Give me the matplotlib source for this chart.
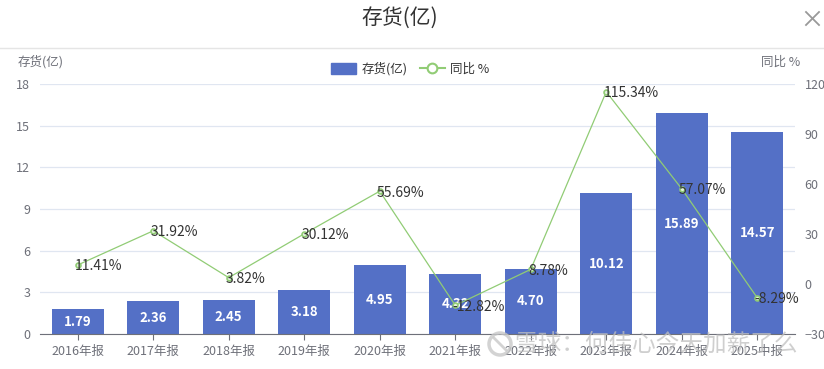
import matplotlib
matplotlib.use('Agg')
import matplotlib.pyplot as plt
from matplotlib.patches import Patch, Ellipse
from matplotlib.lines import Line2D

plt.rcParams['font.family'] = ['Noto Sans CJK SC', 'DejaVu Sans']

# data
periods = ['2016年报', '2017年报', '2018年报', '2019年报', '2020年报',
           '2021年报', '2022年报', '2023年报', '2024年报', '2025中报']
inventory = [1.79, 2.36, 2.45, 3.18, 4.95, 4.32, 4.70, 10.12, 15.89, 14.57]
yoy = [11.41, 31.92, 3.82, 30.12, 55.69, -12.82, 8.78, 115.34, 57.07, -8.29]

BAR = '#5470c6'
LINE = '#91cc75'
AXIS = '#6e7079'
GRID = '#e0e6f1'

W, H = 824, 369
fig = plt.figure(figsize=(W / 100, H / 100), dpi=100)
ax = fig.add_axes([40 / W, 1 - 334 / H, 755 / W, 250 / H])

x = list(range(len(periods)))
ax.bar(x, inventory, width=0.69, color=BAR, zorder=2)
ax.set_xlim(-0.5, len(periods) - 0.5)
ax.set_ylim(0, 18)
ax.set_yticks(range(0, 19, 3))
ax.grid(axis='y', color=GRID, linewidth=0.9, zorder=0)
ax.set_xticks(x)
ax.set_xticklabels(periods)
ax.tick_params(axis='x', colors=AXIS, labelsize=9, length=4, pad=4)
ax.tick_params(axis='y', colors=AXIS, labelsize=9, length=0, pad=7)
for s in ['top', 'right', 'left']:
    ax.spines[s].set_visible(False)
ax.spines['bottom'].set_color(AXIS)

for xi, v in zip(x, inventory):
    ax.text(xi, v / 2, f'{v:.2f}', ha='center', va='center', color='white',
            fontsize=9.5, fontweight='bold', zorder=3)

ax2 = ax.twinx()
ax2.set_ylim(-30, 120)
ax2.set_yticks(range(-30, 121, 30))
ax2.tick_params(axis='y', colors=AXIS, labelsize=9, length=0, pad=7)
for s in ax2.spines.values():
    s.set_visible(False)
ax2.plot(x, yoy, color=LINE, linewidth=0.9, marker='o', markersize=3.5,
         markerfacecolor='#e4f3dc', markeredgecolor=LINE, markeredgewidth=1.2, zorder=4)
for xi, v in zip(x, yoy):
    ax2.annotate(f'{v:.2f}%', (xi, v), xytext=(-2, -1), textcoords='offset points',
                 ha='left', va='center', fontsize=10, color='#333333', zorder=5)

# header
fig.text(400 / W, 1 - 18 / H, '存货(亿)', ha='center', va='center', fontsize=15, color='#333333')
fig.add_artist(Line2D([806 / W, 819 / W], [1 - 12 / H, 1 - 25 / H], color='#999999', linewidth=1.3))
fig.add_artist(Line2D([806 / W, 819 / W], [1 - 25 / H, 1 - 12 / H], color='#999999', linewidth=1.3))
fig.add_artist(Line2D([0, 1], [1 - 48 / H, 1 - 48 / H], color='#e5e5e5', linewidth=1))

# axis titles
fig.text(18 / W, 1 - 62 / H, '存货(亿)', ha='left', va='center', fontsize=9, color=AXIS)
fig.text(800 / W, 1 - 62 / H, '同比 %', ha='right', va='center', fontsize=9, color=AXIS)

# legend
handles = [Patch(facecolor=BAR, edgecolor=BAR),
           Line2D([0], [0], color=LINE, linewidth=1.5, marker='o', markersize=7,
                  markerfacecolor='white', markeredgecolor=LINE, markeredgewidth=1.5)]
fig.legend(handles, ['存货(亿)', '同比 %'], loc='center', ncol=2,
           bbox_to_anchor=(410 / W, 1 - 69 / H), frameon=False, fontsize=9,
           handlelength=2.0, handleheight=0.9, columnspacing=1.0, handletextpad=0.4,
           labelcolor='#333333')

# watermark (logo drawn as a ring, then the text)
fig.add_artist(Ellipse((500 / W, 1 - 344 / H), 22 / W, 22 / H, fill=False,
                       edgecolor='#c8c8c8', linewidth=2.5, alpha=0.8))
fig.add_artist(Line2D([494 / W, 506 / W], [1 - 338 / H, 1 - 350 / H], color='#c8c8c8',
                      linewidth=2, alpha=0.8))
fig.text(514 / W, 1 - 344 / H, '雪球：何佳心今天加薪了么', ha='left', va='center',
         fontsize=17, color='#c0c0c0', alpha=0.75)

fig.savefig('out.png', dpi=100)
